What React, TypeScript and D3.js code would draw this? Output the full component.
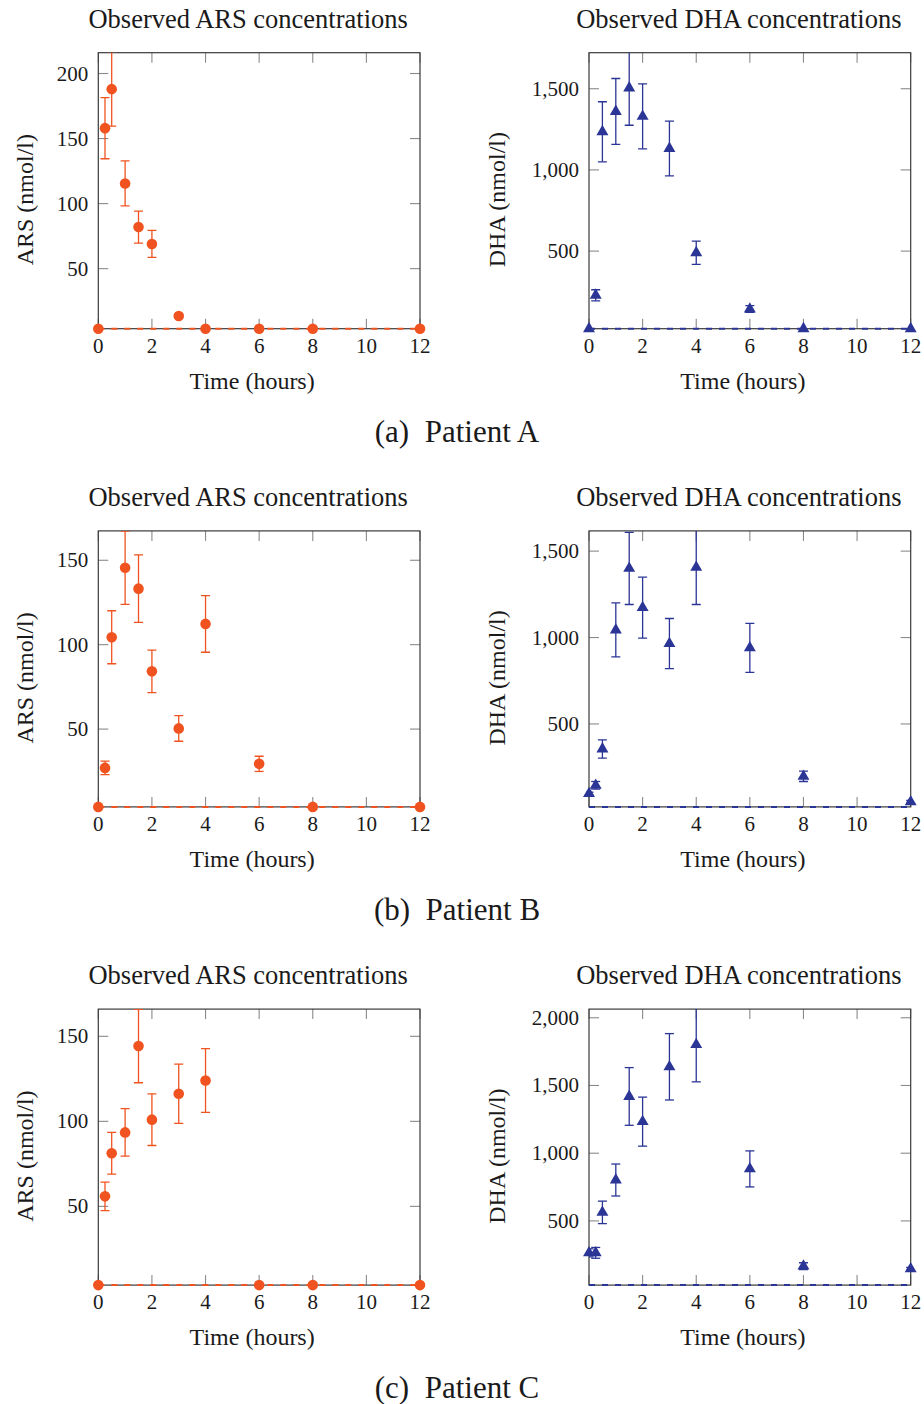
import React from "react";
import * as d3 from "d3";

// ---- data ----
const times = [0, 0.25, 0.5, 1, 1.5, 2, 3, 4, 6, 8, 12];
const xTicks = [0, 2, 4, 6, 8, 10, 12];
const patients = ["A", "B", "C"];

const arsA = [3.85, 158, 188, 115.5, 82, 69, 13.6, 3.85, 3.85, 3.85, 3.85];
const arsAErr = [0, 23.5, 28.5, 17.3, 12.3, 10.4, 1.5, 0, 0, 0, 0];
const dhaA = [22, 228, 1235, 1360, 1505, 1330, 1132, 490, 143, 22, 22];
const dhaAErr = [0, 34, 185, 203, 230, 200, 169, 72, 21, 0, 0];

const arsB = [3.9, 27, 104.4, 145.6, 133.2, 84.2, 50.4, 112.3, 29.4, 3.9, 3.9];
const arsBErr = [0, 4, 15.7, 21.7, 20, 12.6, 7.6, 16.8, 4.5, 0, 0];
const dhaB = [97, 145, 355, 1044, 1400, 1173, 965, 1406, 940, 197, 49];
const dhaBErr = [8, 22, 53, 156, 209, 176, 145, 215, 142, 30, 8];

const arsC = [3.7, 55.9, 81.2, 93.5, 144.3, 101, 116.2, 124, 3.7, 3.7, 3.7];
const arsCErr = [0, 8.4, 12.3, 14, 21.6, 15.2, 17.4, 18.7, 0, 0, 0];
const dhaC = [264, 264, 563, 802, 1419, 1233, 1638, 1802, 884, 166, 146];
const dhaCErr = [30, 40, 83, 118, 213, 181, 245, 275, 133, 25, 10];

const arsDomains = [[3.85, 216], [3.9, 167.4], [3.7, 166]];
const dhaDomains = [[22, 1722], [20, 1617], [26, 2064]];
const arsTicks = [[50, 100, 150, 200], [50, 100, 150], [50, 100, 150]];
const dhaTicks = [[500, 1000, 1500], [500, 1000, 1500], [500, 1000, 1500, 2000]];

const arsValues = [arsA, arsB, arsC];
const arsErrs = [arsAErr, arsBErr, arsCErr];
const dhaValues = [dhaA, dhaB, dhaC];
const dhaErrs = [dhaAErr, dhaBErr, dhaCErr];

// ---- style ----
const ORANGE = "#f0531f";
const BLUE = "#2b3596";
const FONT = "Liberation Serif";
const INK = "#1a1a1a";
const fmt = d3.format(",");

type PanelProps = {
  id: string;
  x0: number; x1: number; top: number; bottom: number;
  domain: number[]; yTicks: number[];
  values: number[]; errs: number[];
  color: string; marker: "circle" | "triangle";
  title: string; ylabel: string;
  labelX: number;
};

function Panel(p: PanelProps) {
  const x = d3.scaleLinear().domain([0, 12]).range([p.x0, p.x1]);
  const y = d3.scaleLinear().domain(p.domain).range([p.bottom, p.top]);
  const tickLen = 10;
  const cap = 4.5;
  const clipId = "clip" + p.id;
  const tri = d3.symbol().type(d3.symbolTriangle).size(62)() as string;
  const cx = (p.x0 + p.x1) / 2;
  return (
    <g>
      <defs>
        <clipPath id={clipId}>
          <rect x={p.x0} y={p.top} width={p.x1 - p.x0} height={p.bottom - p.top} />
        </clipPath>
      </defs>
      {/* ticks */}
      {xTicks.map((t) => (
        <g key={"xt" + t} stroke="#8a8a8a" strokeWidth={1.1}>
          <line x1={x(t)} x2={x(t)} y1={p.bottom} y2={p.bottom - tickLen} />
          <line x1={x(t)} x2={x(t)} y1={p.top} y2={p.top + tickLen} />
        </g>
      ))}
      {p.yTicks.map((t) => (
        <g key={"yt" + t} stroke="#8a8a8a" strokeWidth={1.1}>
          <line x1={p.x0} x2={p.x0 + tickLen} y1={y(t)} y2={y(t)} />
          <line x1={p.x1} x2={p.x1 - tickLen} y1={y(t)} y2={y(t)} />
        </g>
      ))}
      <rect x={p.x0} y={p.top} width={p.x1 - p.x0} height={p.bottom - p.top}
        fill="none" stroke="#3a3a3a" strokeWidth={1.2} />
      {/* tick labels */}
      {xTicks.map((t) => (
        <text key={"xl" + t} x={x(t)} y={p.bottom + 24} textAnchor="middle"
          fontFamily={FONT} fontSize={21} fill={INK}>{t}</text>
      ))}
      {p.yTicks.map((t) => (
        <text key={"yl" + t} x={p.x0 - 10} y={y(t)} textAnchor="end" dominantBaseline="central"
          fontFamily={FONT} fontSize={21} fill={INK}>{fmt(t)}</text>
      ))}
      {/* LLOQ dashed line */}
      <line x1={x(0)} x2={x(12)} y1={y(p.domain[0])} y2={y(p.domain[0])}
        stroke={p.color} strokeWidth={2} strokeDasharray="6 7" />
      {/* error bars */}
      <g clipPath={`url(#${clipId})`} stroke={p.color} strokeWidth={1.3}>
        {times.map((t, i) => p.errs[i] > 0 ? (
          <g key={"e" + i}>
            <line x1={x(t)} x2={x(t)} y1={y(p.values[i] - p.errs[i])} y2={y(p.values[i] + p.errs[i])} />
            <line x1={x(t) - cap} x2={x(t) + cap} y1={y(p.values[i] - p.errs[i])} y2={y(p.values[i] - p.errs[i])} />
            <line x1={x(t) - cap} x2={x(t) + cap} y1={y(p.values[i] + p.errs[i])} y2={y(p.values[i] + p.errs[i])} />
          </g>
        ) : null)}
      </g>
      {/* markers */}
      {times.map((t, i) => p.marker === "circle" ? (
        <circle key={"m" + i} cx={x(t)} cy={y(p.values[i])} r={5.3} fill={p.color} />
      ) : (
        <path key={"m" + i} d={tri} transform={`translate(${x(t)},${y(p.values[i])})`} fill={p.color} />
      ))}
      {/* titles */}
      <text x={cx - 11} y={p.top - 25} textAnchor="middle" fontFamily={FONT} fontSize={26.5} fill={INK}>{p.title}</text>
      <text x={cx - 7} y={p.bottom + 60} textAnchor="middle" fontFamily={FONT} fontSize={24} fill={INK}>Time (hours)</text>
      <text transform={`translate(${p.labelX},${(p.top + p.bottom) / 2 + 9}) rotate(-90)`} textAnchor="middle"
        dominantBaseline="central" fontFamily={FONT} fontSize={24} fill={INK}>{p.ylabel}</text>
    </g>
  );
}

export default function App() {
  const rowStep = 478.2;
  return (
    <svg width={924} height={1404} style={{ position: "absolute", left: 0, top: 0, background: "#fff" }}>
      <rect width={924} height={1404} fill="#fff" />
      {patients.map((pt, r) => {
        const off = r * rowStep;
        const top = 52.7 + off;
        const bottom = 328.7 + off;
        return (
          <g key={pt}>
            <Panel id={"ars" + pt} x0={98.3} x1={420} top={top} bottom={bottom}
              domain={arsDomains[r]} yTicks={arsTicks[r]} values={arsValues[r]} errs={arsErrs[r]}
              color={ORANGE} marker="circle" title="Observed ARS concentrations" ylabel="ARS (nmol/l)" labelX={25} />
            <Panel id={"dha" + pt} x0={589} x1={910.7} top={top} bottom={bottom}
              domain={dhaDomains[r]} yTicks={dhaTicks[r]} values={dhaValues[r]} errs={dhaErrs[r]}
              color={BLUE} marker="triangle" title="Observed DHA concentrations" ylabel="DHA (nmol/l)" labelX={497} />
            <text x={457} y={442 + off} textAnchor="middle" fontFamily={FONT} fontSize={31} fill={INK}>
              {`(${pt.toLowerCase()})\u00a0\u00a0Patient ${pt}`}
            </text>
          </g>
        );
      })}
    </svg>
  );
}
